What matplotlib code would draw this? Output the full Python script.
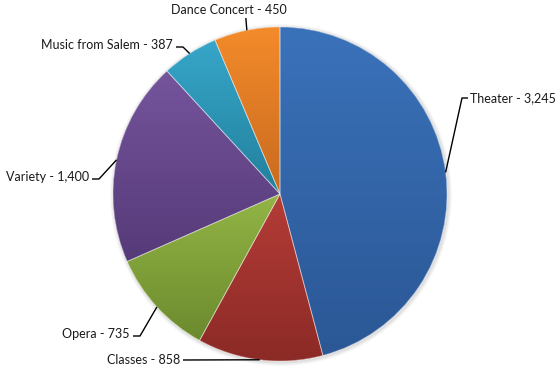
import numpy as np
import matplotlib
matplotlib.use("Agg")
import matplotlib.pyplot as plt
from matplotlib.colors import LinearSegmentedColormap
from matplotlib.patches import Circle

categories = ["Theater", "Classes", "Opera", "Variety", "Music from Salem", "Dance Concert"]
values = [3245, 858, 735, 1400, 387, 450]

top_colors = ["#3a72ba", "#b53c37", "#93b545", "#75549c", "#37a6c9", "#f48b2b"]
bot_colors = ["#2b5795", "#8b2a26", "#6c8a2e", "#553a78", "#22809c", "#c86a1f"]

W, H = 555, 368
fig = plt.figure(figsize=(W / 100, H / 100), dpi=100)
ax = fig.add_axes([0, 0, 1, 1])

def py(y):
    return H - y

cx, cy, r = 280, py(194), 167

# soft shadow
for i, a in enumerate([0.05, 0.04, 0.03]):
    ax.add_patch(Circle((cx + 1, cy - 1), r + 1.5 + i * 1.2, color="black", alpha=a, lw=0, zorder=0))

wedges, _ = ax.pie(values, startangle=90, counterclock=False, center=(cx, cy), radius=r,
                   colors=top_colors, wedgeprops=dict(lw=0), frame=True)

grad = np.linspace(0, 1, 256).reshape(-1, 1)
for w, c1, c2 in zip(wedges, top_colors, bot_colors):
    verts = w.get_path().vertices
    x0, x1 = verts[:, 0].min(), verts[:, 0].max()
    y0, y1 = verts[:, 1].min(), verts[:, 1].max()
    cmap = LinearSegmentedColormap.from_list("g", [c2, c1])
    im = ax.imshow(grad, cmap=cmap, extent=[x0, x1, y0, y1], origin="lower",
                   aspect="auto", zorder=2, interpolation="bilinear")
    im.set_clip_path(w)

ax.pie(values, startangle=90, counterclock=False, center=(cx, cy), radius=r,
       colors=["none"] * len(values), wedgeprops=dict(lw=0.6, edgecolor=(1, 1, 1, 0.45), zorder=3),
       frame=True)
ax.set_xlim(0, W)
ax.set_ylim(0, H)
ax.set_aspect("equal")
ax.axis("off")

# label layout: (text x, text y, ha)
layout = {
    "Theater": (470, 98, "left"),
    "Classes": (180, 360, "right"),
    "Opera": (130, 334, "right"),
    "Variety": (89, 177, "right"),
    "Music from Salem": (173, 45, "right"),
    "Dance Concert": (229, 10, "center"),
}

total = sum(values)
cum = 0
for cat, v in zip(categories, values):
    mid = (cum + v / 2) / total
    cum += v
    ang = np.deg2rad(90 - 360 * mid)
    axp, ayp = cx + r * np.cos(ang), cy + r * np.sin(ang)
    tx, ty, ha = layout[cat]
    label = f"{cat} - {v:,}"
    ax.text(tx, py(ty), label, ha=ha, va="center", fontsize=9.0, family="Lato", color="#1a1a1a", zorder=5)
    if ha == "left":
        pts = [(axp, ayp), (tx - 8, py(ty)), (tx - 2, py(ty))]
    elif ha == "right":
        pts = [(axp, ayp), (tx + 10, py(ty) - 2), (tx + 3, py(ty) - 2)]
        if cat == "Classes":
            pts = [(axp, ayp), (tx + 3, py(ty))]
    else:
        pts = [(axp, ayp), (axp - 1, py(ty) - 8)]
    xs, ys = zip(*pts)
    ax.plot(xs, ys, color="black", lw=1.0, zorder=4, solid_capstyle="butt")

fig.savefig("out.png", dpi=100)
